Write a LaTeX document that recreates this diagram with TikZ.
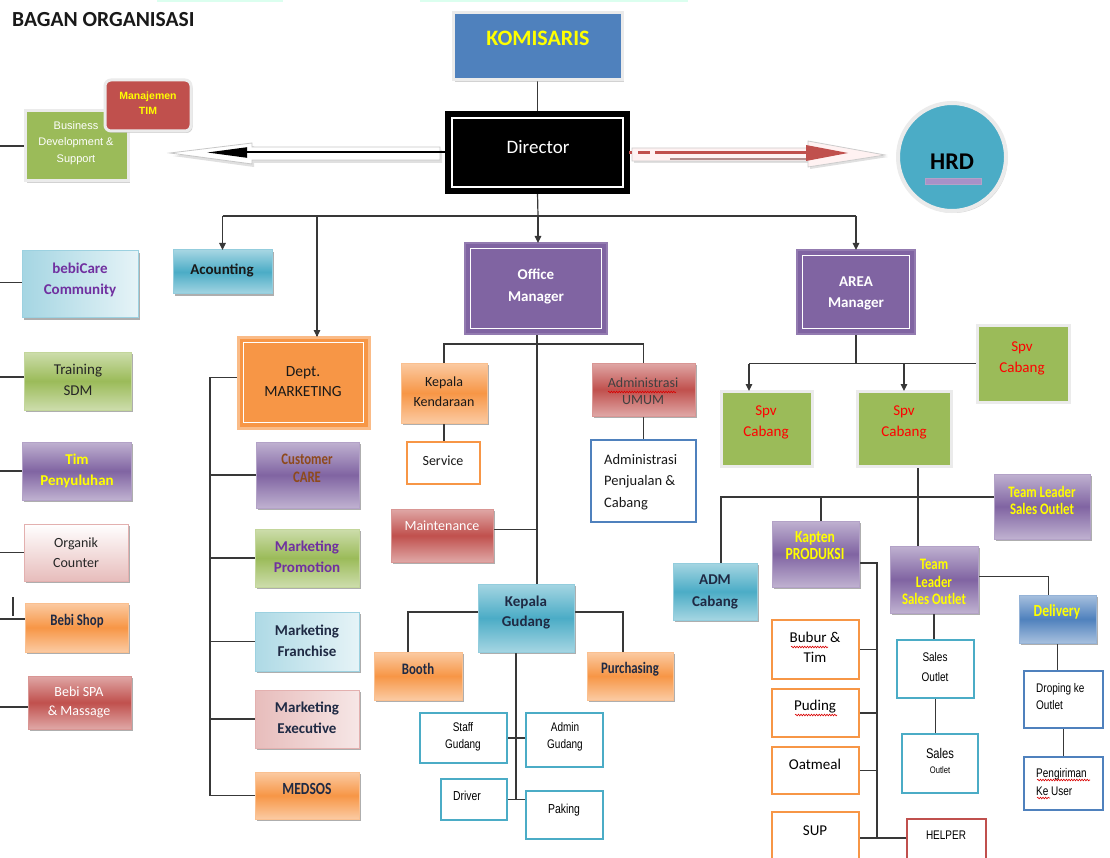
\documentclass[tikz,border=0pt]{standalone}
\usepackage{fontspec}
\setmainfont{Carlito}
\newfontfamily\arialf{Liberation Sans}
\newfontfamily\narrowf[FakeStretch=0.8]{Liberation Sans}
\newfontfamily\condf[FakeStretch=0.8]{Carlito}
\usetikzlibrary{arrows.meta,shadows,decorations.pathmorphing}
\definecolor{cBlue}{HTML}{4F81BD}
\definecolor{cRed}{HTML}{C0504D}
\definecolor{cGreen}{HTML}{9BBB59}
\definecolor{cPurple}{HTML}{8064A2}
\definecolor{cAqua}{HTML}{4BACC6}
\definecolor{cOrange}{HTML}{F79646}
\definecolor{cYel}{HTML}{FFFF00}
\definecolor{cViolet}{HTML}{7030A0}
\definecolor{cNavy}{HTML}{1F2A44}
\definecolor{cBrown}{HTML}{8E4A1C}
\definecolor{cLav}{HTML}{A891C8}
\newcommand{\F}[2]{\fontsize{#1}{#2}\selectfont}
\newcommand{\bx}[6]{\node[#1, minimum width={(#5-#3)*1pt}, minimum height={(#6-#4)*1pt}] (#2) at ({(#3+#5)/2},{(#4+#6)/2}) {};}
\newcommand{\innerline}[3]{\draw[#3] ([shift={(#2,-#2)}]#1.north west) rectangle ([shift={(-#2,#2)}]#1.south east);}
\pgfdeclarelayer{bg}
\pgfsetlayers{bg,main}
\begin{document}
\begin{tikzpicture}[x=1pt,y=-1pt,
 base/.style={rectangle, inner sep=0pt, outer sep=0pt},
 sh/.style={drop shadow={shadow xshift=2pt, shadow yshift=-2pt, fill=black!70, opacity=0.45}},
 gr/.style={base, sh, top color=#1!50!white, bottom color=#1!50!white, middle color=#1, draw=#1!60!white, line width=1pt},
 frm/.style={base, fill=white, draw=#1, line width=2.8pt},
 sld/.style={base, fill=#1, draw=black!8, line width=3pt, drop shadow={shadow xshift=1.5pt, shadow yshift=-2pt, fill=black!35, opacity=0.5}},
 t/.style={inner sep=0pt, align=center},
 ln/.style={draw=black!78, line width=1.2pt},
 arr/.style={ln, -{Triangle[length=7pt,width=6.5pt]}},
 squig/.style={draw=red!85!black, line width=0.6pt, decorate, decoration={snake, amplitude=0.8pt, segment length=2.6pt}},
]
\useasboundingbox (0,0) rectangle (1110,858);
\begin{pgfonlayer}{bg}
\fill[white] (0,0) rectangle (1110,858);
\end{pgfonlayer}
% faint shapes at the top edge
\fill[green!45!cyan!14] (157,0) rectangle (283,2.5);
\fill[green!45!cyan!14] (420,0) rectangle (688,2.5);

% title
\node[t, anchor=west, font={\F{21.5}{24}\bfseries}, text=black!90] (title) at (12,20) {BAGAN ORGANISASI};

% ---------- boxes ----------
\bx{sld=cGreen}{bizdev}{25}{111}{128}{181}
\node[base, rounded corners=6pt, fill=cRed, draw=black!8, line width=3pt, drop shadow={shadow xshift=1.5pt, shadow yshift=-2pt, fill=black!35, opacity=0.5}, minimum width=86pt, minimum height=51pt] (mantim) at (148,105.5) {};
\bx{sld=cBlue}{kom}{453}{13}{622}{80}
\bx{base, fill=black, draw=black, line width=2pt}{dir}{446}{112}{629}{193}
\innerline{dir}{6pt}{white, line width=1.6pt}
\node[circle, fill=cAqua, draw=black!8, line width=4pt, minimum size=108pt, drop shadow={shadow xshift=1.5pt, shadow yshift=-2pt, fill=black!35, opacity=0.5}] (hrd) at (952,157) {};
\fill[cLav, draw=cPurple!60] (925,178) rectangle (981,184);

\bx{gr=cAqua}{acc}{173}{250}{272}{294}
\bx{base, fill=cPurple, draw=cPurple!85!white, line width=1.5pt}{om}{465}{243}{607}{334}
\innerline{om}{5.5pt}{white, line width=1.6pt}
\bx{base, fill=cPurple, draw=cPurple!85!white, line width=1.5pt}{area}{797}{250}{915}{334}
\innerline{area}{5.5pt}{white, line width=1.6pt}
\bx{base, fill=cOrange, draw=cOrange!65!white, line width=3pt}{dept}{238}{337}{369}{428}
\innerline{dept}{5.5pt}{white, line width=1.6pt}

% left column
\bx{base, sh, left color=cAqua!50!white, right color=cAqua!14!white, draw=cAqua!55!white, line width=1pt}{bebi}{22}{251}{138}{318}
\bx{gr=cGreen}{trn}{24}{352}{131}{410}
\bx{gr=cPurple}{tim}{22}{442}{131}{500}
\bx{base, sh, top color=white, bottom color=cRed!38!white, draw=cRed!45!white, line width=1pt}{org}{24}{524}{128}{581}
\bx{gr=cOrange}{shop}{25}{603}{128}{652}
\bx{gr=cRed}{spa}{28}{676}{131}{729}

% marketing column
\bx{gr=cPurple}{cc}{256}{442}{359}{508}
\bx{gr=cGreen}{mp}{255}{529}{359}{587}
\bx{base, sh, left color=cAqua!45!white, right color=cAqua!14!white, draw=cAqua!55!white, line width=1pt}{mf}{255}{612}{359}{671}
\bx{base, sh, left color=cRed!38!white, right color=cRed!14!white, draw=cRed!45!white, line width=1pt}{me}{255}{690}{359}{748}
\bx{gr=cOrange}{med}{255}{772}{359}{819}

% centre
\bx{gr=cOrange}{kk}{401}{363}{487}{423}
\bx{frm=cOrange}{svc}{407}{442}{480}{484}
\bx{gr=cRed}{adm}{592}{363}{695}{416}
\bx{frm=cBlue}{apc}{591}{440}{696}{522}
\bx{gr=cRed}{maint}{391}{509}{493}{562}
\bx{gr=cAqua}{kg}{478}{584}{574}{652}
\bx{gr=cOrange}{booth}{374}{652}{462}{700}
\bx{gr=cOrange}{pur}{587}{652}{673}{700}
\bx{frm=cAqua}{sg}{420}{713}{507}{763}
\bx{frm=cAqua}{ag}{526}{713}{603}{767}
\bx{frm=cAqua}{drv}{441}{779}{507}{820}
\bx{frm=cAqua}{pak}{526}{791}{603}{839}

% right side
\bx{sld=cGreen}{spv3}{977}{325}{1069}{402}
\bx{sld=cGreen}{spv1}{721}{391}{812}{466}
\bx{sld=cGreen}{spv2}{857}{391}{951}{466}
\bx{gr=cPurple}{tlr}{994}{474}{1090}{539}
\bx{gr=cPurple}{kap}{772}{521}{859}{587}
\bx{gr=cPurple}{tlc}{890}{546}{978}{613}
\bx{gr=cAqua}{admc}{673}{563}{757}{620}
\bx{frm=cOrange}{bub}{772}{620}{859}{679}
\bx{frm=cOrange}{pud}{772}{689}{859}{737}
\bx{frm=cOrange}{oat}{772}{747}{859}{794}
\bx{frm=cOrange}{sup}{772}{812}{859}{862}
\bx{frm=cRed}{helper}{907}{819}{986}{862}
\bx{frm=cAqua}{so1}{897}{640}{974}{698}
\bx{frm=cAqua}{so2}{902}{734}{978}{793}
\bx{gr=cBlue}{del}{1019}{595}{1096}{643}
\bx{frm=cBlue}{drop}{1024}{671}{1103}{728}
\bx{frm=cBlue}{peng}{1024}{757}{1103}{810}

% ---------- texts ----------
\node[t, font={\arialf\bfseries\F{10.5}{15}}, text=cYel] (mantim-t) at (148,103) {Manajemen\\TIM};
\node[t, font={\arialf\F{11}{16.5}}, text=white] (bizdev-t) at (76,143) {Business\\Development \&\\Support};
\node[t, font={\bfseries\F{22}{24}}, text=cYel] (kom-t) at (538,38) {KOMISARIS};
\node[t, font={\F{19}{22}}, text=white] (dir-t) at (538,147) {Director};
\node[t, font={\bfseries\F{24}{26}}, text=black] (hrd-t) at (952,162) {HRD};
\node[t, font={\bfseries\F{15}{18}}, text=black!90] (acc-t) at (222,270) {Acounting};
\node[t, font={\bfseries\F{15}{22}}, text=white] (om-t) at (536,286) {Office\\Manager};
\node[t, font={\bfseries\F{15}{21}}, text=white] (area-t) at (856,293) {AREA\\Manager};
\node[t, font={\F{15.5}{20}}, text=black!90] (dept-t) at (303,382) {Dept.\\MARKETING};

\node[t, font={\bfseries\F{15}{21}}, text=cViolet] (bebi-t) at (80,280) {bebiCare\\Community};
\node[t, font={\F{15}{21}}, text=black!85] (trn-t) at (78,380) {Training\\SDM};
\node[t, font={\bfseries\F{15}{21}}, text=cYel] (tim-t) at (77,471) {Tim\\Penyuluhan};
\node[t, font={\F{14}{20}}, text=black!85] (org-t) at (76,553) {Organik\\Counter};
\node[t, font={\condf\bfseries\F{16}{18}}, text=cNavy] (shop-t) at (77,621) {Bebi Shop};
\node[t, font={\F{14}{19}}, text=white] (spa-t) at (79,702) {Bebi SPA\\\& Massage};

\node[t, font={\condf\bfseries\F{16}{18}}, text=cBrown] (cc-t) at (307,468) {Customer\\CARE};
\node[t, font={\bfseries\F{15}{21}}, text=cViolet] (mp-t) at (307,557) {Marketing\\Promotion};
\node[t, font={\bfseries\F{15}{21}}, text=cNavy] (mf-t) at (307,641) {Marketing\\Franchise};
\node[t, font={\bfseries\F{15}{21}}, text=cNavy] (me-t) at (307,718) {Marketing\\Executive};
\node[t, font={\condf\bfseries\F{17}{18}}, text=cNavy] (med-t) at (307,789) {MEDSOS};

\node[t, font={\F{14}{20}}, text=black!90] (kk-t) at (444,392) {Kepala\\Kendaraan};
\node[t, font={\F{14}{18}}, text=black!90] (svc-t) at (443,461) {Service};
\node[t, font={\F{14}{17}}, text=black!75] (adm-t) at (643,391) {Administrasi\\UMUM};
\node[t, anchor=west, align=left, font={\F{14.5}{21.5}}, text=black!90] (apc-t) at (604,482) {Administrasi\\Penjualan \&\\Cabang};
\node[t, font={\F{14}{18}}, text=white] (maint-t) at (442,526) {Maintenance};
\node[t, font={\bfseries\F{15}{20}}, text=cNavy] (kg-t) at (526,613) {Kepala\\Gudang};
\node[t, font={\condf\bfseries\F{16}{18}}, text=cNavy] (booth-t) at (418,669) {Booth};
\node[t, font={\condf\bfseries\F{16}{18}}, text=cNavy] (pur-t) at (630,669) {Purchasing};
\node[t, font={\narrowf\F{12.5}{17}}, text=black] (sg-t) at (463,737) {Staff\\Gudang};
\node[t, font={\narrowf\F{12.5}{17}}, text=black] (ag-t) at (565,737) {Admin\\Gudang};
\node[t, font={\narrowf\F{13}{16}}, text=black] (drv-t) at (467,796) {Driver};
\node[t, font={\narrowf\F{13}{16}}, text=black] (pak-t) at (564,810) {Paking};

\node[t, font={\F{15}{21}}, text=red] (spv3-t) at (1022,358) {Spv\\Cabang};
\node[t, font={\F{15}{21}}, text=red] (spv1-t) at (766,422) {Spv\\Cabang};
\node[t, font={\F{15}{21}}, text=red] (spv2-t) at (904,422) {Spv\\Cabang};
\node[t, font={\condf\bfseries\F{16}{17}}, text=cYel] (tlr-t) at (1042,500) {Team Leader\\Sales Outlet};
\node[t, font={\condf\bfseries\F{17}{17}}, text=cYel] (kap-t) at (815,546) {Kapten\\PRODUKSI};
\node[t, font={\condf\bfseries\F{16}{17.5}}, text=cYel] (tlc-t) at (934,582) {Team\\Leader\\Sales Outlet};
\node[t, font={\bfseries\F{15}{22}}, text=cNavy] (admc-t) at (715,592) {ADM\\Cabang};
\node[t, font={\F{15}{20}}, text=black] (bub-t) at (815,647) {Bubur \&\\Tim};
\node[t, font={\F{15}{18}}, text=black] (pud-t) at (815,707) {Puding};
\node[t, font={\F{15}{18}}, text=black] (oat-t) at (815,764) {Oatmeal};
\node[t, font={\F{15}{18}}, text=black] (sup-t) at (815,831) {SUP};
\node[t, font={\narrowf\F{12.5}{16}}, text=black] (helper-t) at (946,835) {HELPER};
\node[t, font={\narrowf\F{12.5}{20}}, text=black] (so1-t) at (935,667) {Sales\\Outlet};
\node[t, font={\narrowf\F{14}{16}}, text=black] (so2-t1) at (940,753) {Sales};
\node[t, font={\narrowf\F{9.5}{12}}, text=black] (so2-t2) at (940,770) {Outlet};
\node[t, font={\condf\bfseries\F{17}{18}}, text=cYel] (del-t) at (1057,612) {Delivery};
\node[t, anchor=west, align=left, font={\narrowf\F{12.5}{17}}, text=black] (drop-t) at (1036,697) {Droping ke\\Outlet};
\node[t, anchor=west, align=left, font={\narrowf\F{12.5}{18}}, text=black] (peng-t) at (1036,782) {Pengiriman\\Ke User};

% spelling squiggles
\draw[squig] (608,392) -- (676,392);
\draw[squig] (791,647) -- (828,647);
\draw[squig] (795,715) -- (837,715);
\draw[squig] (1037,780) -- (1090,780);
\draw[squig] (1037,798) -- (1050,798);

% ---------- connectors ----------
\begin{pgfonlayer}{bg}
% block arrow to the left
\fill[black!12] (442,150)--(254,150)--(254,146)--(173,156)--(254,167)--(254,163)--(442,163)--cycle;
\filldraw[fill=white, draw=black!22, line width=0.8pt] (440,147)--(252,147)--(252,143)--(170,153)--(252,164)--(252,160)--(440,160)--cycle;
% block arrow to the right
\fill[black!12] (634,151)--(810,151)--(810,144)--(888,157)--(810,169)--(810,163)--(634,163)--cycle;
\filldraw[fill=red!5, draw=black!20, line width=0.8pt] (632,148)--(808,148)--(808,141)--(885,155)--(808,167)--(808,161)--(632,161)--cycle;
\end{pgfonlayer}
\coordinate (la) at (207,152.5);
\draw[line width=2pt, -{Triangle[length=40pt,width=10pt]}] (dir.west) -- (la);
\coordinate (ra) at (848,153);
\draw[cRed, line width=2.6pt, dash pattern=on 3pt off 6pt on 12pt off 5pt on 300pt] (dir.east) -- (810,152.5);
\draw[cRed!60!black!55, line width=1.6pt] (670,159) -- (808,159);
\fill[cRed] (806,145) -- (ra) -- (806,161) -- cycle;

\begin{pgfonlayer}{bg}
\draw[ln] (kom.south) -- (dir.north);
\coordinate (dbus) at (538,216);
\draw[ln] (dir.south) -- (dbus);
\draw[ln] (acc.north |- dbus) -- (area.north |- dbus);
\coordinate (mkt) at (317,216);
\draw[ln] (mkt) -- (mkt |- dept.north);
\end{pgfonlayer}
\draw[arr] (acc.north |- dbus) -- (acc.north);
\draw[arr] (dbus) -- (dbus |- om.north);
\draw[arr] (area.north |- dbus) -- (area.north);
\draw[arr] ([yshift=20pt]mkt |- dept.north) -- (mkt |- dept.north);

\begin{pgfonlayer}{bg}
% office manager
\coordinate (omv) at (537,344);
\draw[ln] (om.south -| omv) -- (omv |- kg.north);
\draw[ln] (kk.north) |- (omv) -| (adm.north);
\draw[ln] (kk.south) -- (kk.south |- svc.north);
\draw[ln] (adm.south) -- (adm.south |- apc.north);
\draw[ln] ([yshift=6pt]maint.east) -- ([yshift=6pt]maint.east -| omv);
% gudang
\draw[ln] ([yshift=6pt]kg.west) -| ([xshift=-10pt]booth.north);
\draw[ln] ([yshift=6pt]kg.east) -| ([xshift=-7pt]pur.north);
\coordinate (kgx) at (516,0);
\draw[ln] (kg.south -| kgx) -- (kgx |- drv.east);
\draw[ln] (sg.east) -- (sg.east -| ag.west);
\draw[ln] (drv.east) -- (drv.east -| pak.west);
% marketing
\coordinate (mkx) at (210,0);
\draw[ln] ([yshift=5pt]dept.west) -- ([yshift=5pt]dept.west -| mkx) -- (med.west -| mkx) -- (med.west);
\foreach \n in {cc,mp,mf,me} \draw[ln] (\n.west) -- (\n.west -| mkx);
% left column
\coordinate (lx) at (0,0);
\draw[ln] (bizdev.west) -- (bizdev.west -| lx);
\draw[ln] ([yshift=2pt]bebi.west) -- ([yshift=2pt]bebi.west -| lx);
\draw[ln] ([yshift=4pt]trn.west) -- ([yshift=4pt]trn.west -| lx);
\draw[ln] (tim.west) -- (tim.west -| lx);
\draw[ln] (org.west) -- (org.west -| lx);
\draw[ln] ([yshift=8.5pt]shop.west) -- ([yshift=8.5pt]shop.west -| lx);
\draw[ln] ([yshift=-4.5pt]spa.west) -- ([yshift=-4.5pt]spa.west -| lx);
\draw[ln] (13,597) -- (13,616);
% area manager
\coordinate (s1x) at (749,0);
\draw[ln] (area.south) -- (area.south |- spv3.west);
\draw[ln] (spv3.west) -- (spv3.west -| s1x);
\coordinate (s2x) at (918,0);
\draw[ln] (spv2.south -| s2x) -- (s2x |- tlc.north);
\coordinate (ax) at (721,497);
\coordinate (kx) at (821,497);
\draw[ln] (tlr.west |- ax) -- (ax) -- (ax |- admc.north);
\draw[ln] (kx) -- (kx |- kap.north);
% produksi
\coordinate (kv) at (877,838);
\draw[ln] ([yshift=-9pt]kap.east) -| (kv);
\draw[ln] (sup.east |- kv) -- (helper.west |- kv);
\foreach \n in {bub,pud,oat} \draw[ln] (\n.east) -- (\n.east -| kv);
% sales / delivery
\draw[ln] (tlc.south) -- (tlc.south |- so1.north);
\draw[ln] (so1.south) -- (so1.south |- so2.north);
\draw[ln] ([yshift=3pt]tlc.east) -| ([xshift=-9pt]del.north);
\draw[ln] (del.south) -- (del.south |- drop.north);
\draw[ln] (drop.south) -- (drop.south |- peng.north);
\end{pgfonlayer}
\draw[arr] (spv3.west -| s1x) -- (s1x |- spv1.north);
\draw[arr] (spv3.west -| spv2.north) -- (spv2.north);
\end{tikzpicture}
\end{document}
